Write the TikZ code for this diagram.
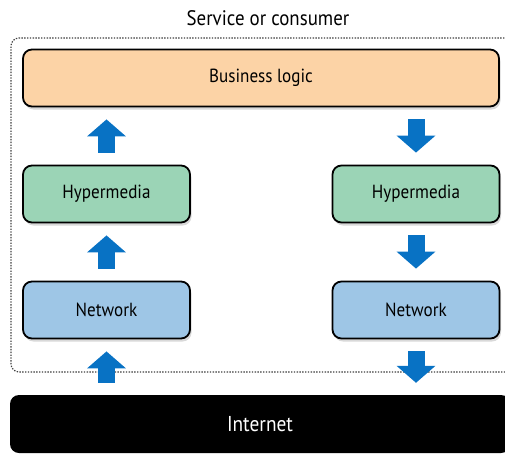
\documentclass[tikz,border=0pt]{standalone}
\usepackage{fontspec}
\setmainfont[FakeStretch=0.9]{PT Sans}
\usetikzlibrary{arrows.meta,shadows}
\definecolor{logicfill}{HTML}{FCD3A6}
\definecolor{hyperfill}{HTML}{9BD4B6}
\definecolor{netfill}{HTML}{9EC6E6}
\definecolor{flowblue}{HTML}{0872C4}
\begin{document}
\begin{tikzpicture}[x=1pt, y=-1pt,
    every node/.style={font=\fontsize{19}{22}\selectfont},
    layer/.style={draw, line width=1.8pt, rounded corners=9pt, minimum height=57pt, align=center,
        drop shadow={shadow xshift=1.5pt, shadow yshift=-3pt, opacity=0.3}},
    logic/.style={layer, fill=logicfill, minimum width=476pt},
    hyper/.style={layer, fill=hyperfill, minimum width=167pt},
    net/.style={layer, fill=netfill, minimum width=167pt},
    web/.style={fill=black, text=white, rounded corners=9pt, minimum width=500pt, minimum height=58pt,
        font=\fontsize{21.5}{24}\selectfont},
    container/.style={line width=1.2pt, black!75, dash pattern=on 1.4pt off 1.4pt, rounded corners=8pt},
    flow/.style={-{Triangle[width=38pt, length=17pt]}, line width=17pt, draw=flowblue, shorten <=12pt, shorten >=12pt},
]
\path[use as bounding box, clip] (0,0) rectangle (505,455);
% service or consumer
\node[font=\fontsize{21}{24}\selectfont] (title) at (268,18) {Service or consumer};
\draw[container] (510,38) -- (11,38) -- (11,372) -- (510,372);
\node[logic] (logic) at (261,78) {Business logic};
\node[hyper] (hypin) at (106.5,194) {Hypermedia};
\node[hyper] (hypout) at (416,194) {Hypermedia};
\node[net] (netin) at (106.5,310) {Network};
\node[net] (netout) at (416,310) {Network};
\node[web] (web) at (260,424) {Internet};
% inbound side
\draw[flow] (netin |- web.north) -- (netin);
\draw[flow] (netin) -- (hypin);
\draw[flow] (hypin) -- (hypin |- logic.south);
% outbound side
\draw[flow] (hypout |- logic.south) -- (hypout);
\draw[flow] (hypout) -- (netout);
\draw[flow] (netout) -- (netout |- web.north);
\end{tikzpicture}
\end{document}
